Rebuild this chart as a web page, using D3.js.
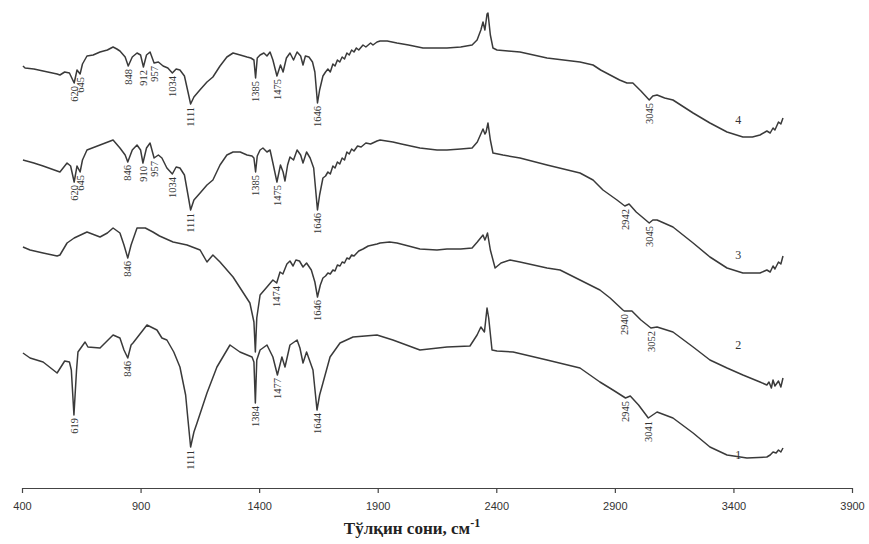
<!DOCTYPE html>
<html>
<head>
<meta charset="utf-8">
<script src="https://cdn.jsdelivr.net/npm/d3@7"></script>
<style>
  html, body { margin: 0; padding: 0; background: #fff; }
  svg { display: block; }
</style>
</head>
<body>
<svg id="chart" width="869" height="544"></svg>
<script>
// ---- Data: wavenumber (cm-1), relative transmittance (offset per curve) ----
const spectrum4 = [[404,86.8],[413,86.4],[450,86.2],[489,85.8],[548,85.2],[560,85.0],[580,85.6],[600,85.4],[620,83.4],[632,86.0],[645,85.2],[655,87.2],[674,88.8],[700,89.0],[729,89.6],[760,90.0],[784,90.6],[800,90.2],[813,89.8],[835,88.6],[848,86.8],[865,88.6],[885,89.4],[900,89.0],[912,86.6],[925,89.0],[940,89.6],[957,87.4],[975,87.6],[995,86.8],[1015,86.4],[1034,85.4],[1050,86.2],[1066,86.0],[1085,84.8],[1100,81.6],[1111,79.2],[1125,80.6],[1150,82.0],[1180,83.6],[1205,84.6],[1235,86.8],[1264,88.6],[1290,89.4],[1320,89.0],[1349,88.6],[1365,88.4],[1378,88.0],[1385,84.4],[1392,88.4],[1404,89.0],[1420,89.4],[1433,88.8],[1446,89.6],[1458,88.0],[1475,84.8],[1490,87.0],[1501,85.6],[1515,88.4],[1530,89.4],[1545,88.0],[1560,89.6],[1575,88.8],[1585,87.0],[1595,88.8],[1610,88.6],[1625,87.6],[1635,85.6],[1646,79.4],[1655,82.0],[1669,84.8],[1680,85.6],[1690,86.2],[1700,85.6],[1711,87.2],[1720,86.8],[1730,88.0],[1740,87.6],[1750,88.6],[1760,88.2],[1770,89.4],[1780,89.0],[1790,90.0],[1800,89.6],[1810,90.4],[1820,90.0],[1838,91.0],[1850,90.6],[1870,91.4],[1880,91.0],[1897,91.6],[1910,91.8],[1940,91.8],[1981,91.4],[2030,91.0],[2091,90.4],[2150,90.4],[2192,90.4],[2250,90.6],[2298,91.0],[2319,92.0],[2335,94.0],[2344,95.6],[2352,94.0],[2361,97.2],[2365,97.4],[2375,93.0],[2386,90.4],[2403,90.0],[2450,89.8],[2500,89.6],[2614,88.4],[2753,87.6],[2808,87.0],[2840,86.0],[2880,85.0],[2920,84.0],[2951,83.4],[2976,83.4],[3010,81.8],[3045,80.0],[3060,80.8],[3078,81.0],[3110,80.4],[3145,80.0],[3230,77.4],[3301,75.4],[3373,73.6],[3440,72.6],[3480,72.6],[3512,73.0],[3541,73.8],[3555,73.4],[3567,74.4],[3575,74.0],[3590,75.6],[3600,75.2],[3609,76.4]];

const spectrum3 = [[404,68.0],[450,67.4],[489,66.8],[548,65.8],[560,65.6],[590,67.4],[605,66.8],[620,63.6],[632,66.8],[645,65.6],[655,68.0],[674,70.0],[729,71.0],[784,72.0],[813,70.4],[835,69.0],[846,67.6],[865,70.0],[885,71.0],[900,70.0],[910,67.4],[925,70.4],[940,71.4],[957,68.4],[975,69.0],[990,68.4],[1011,66.4],[1034,65.2],[1050,66.6],[1066,66.4],[1085,65.0],[1100,61.0],[1111,58.0],[1125,60.0],[1151,61.4],[1180,63.0],[1205,64.0],[1235,67.0],[1264,69.0],[1290,69.6],[1320,69.6],[1349,69.0],[1370,68.8],[1378,68.4],[1385,65.6],[1392,68.8],[1404,70.0],[1416,70.4],[1433,69.6],[1446,70.0],[1458,67.4],[1475,63.6],[1490,67.0],[1501,65.6],[1509,63.8],[1520,67.0],[1530,68.6],[1545,68.0],[1560,70.0],[1575,69.0],[1585,67.4],[1600,69.6],[1615,68.4],[1630,66.4],[1646,58.0],[1655,61.0],[1669,64.4],[1680,64.8],[1690,65.6],[1700,65.2],[1711,66.8],[1720,66.4],[1730,67.6],[1740,67.2],[1750,68.4],[1760,68.0],[1770,69.6],[1780,69.2],[1790,70.2],[1800,69.8],[1815,70.8],[1830,70.6],[1850,71.4],[1870,71.2],[1897,71.8],[1910,72.0],[1964,71.6],[2000,71.2],[2078,70.4],[2150,70.0],[2192,70.0],[2250,70.2],[2298,70.4],[2320,71.6],[2344,74.2],[2352,73.2],[2357,73.6],[2365,75.4],[2375,72.0],[2386,69.4],[2428,69.0],[2500,68.4],[2614,67.0],[2753,65.4],[2808,64.0],[2850,62.0],[2909,60.0],[2942,58.8],[2960,59.2],[2990,57.6],[3045,55.4],[3060,56.0],[3078,56.0],[3145,54.6],[3230,51.4],[3301,48.6],[3373,46.4],[3440,45.4],[3512,45.4],[3541,46.0],[3555,45.6],[3567,46.8],[3575,46.2],[3590,47.6],[3600,47.2],[3609,48.8]];

const spectrum2 = [[404,50.6],[434,50.0],[489,49.4],[548,48.8],[560,49.0],[590,51.4],[620,52.4],[674,53.6],[729,52.6],[760,53.4],[784,54.4],[813,53.4],[830,51.0],[846,48.4],[860,51.0],[885,54.4],[920,54.4],[952,53.6],[980,52.8],[1037,51.6],[1096,51.0],[1151,50.0],[1180,47.6],[1205,49.0],[1235,47.6],[1290,44.6],[1361,39.4],[1378,35.6],[1384,29.6],[1390,36.4],[1404,41.0],[1433,42.6],[1458,44.0],[1474,43.4],[1488,45.6],[1500,45.2],[1517,47.2],[1530,47.8],[1543,46.8],[1555,48.0],[1570,47.8],[1585,46.6],[1600,47.4],[1620,46.0],[1635,43.6],[1646,40.6],[1658,43.0],[1669,44.4],[1680,44.8],[1690,45.4],[1700,45.2],[1711,46.0],[1720,45.8],[1730,47.0],[1741,46.8],[1750,47.6],[1760,47.4],[1770,48.4],[1780,48.2],[1790,49.0],[1800,48.8],[1820,49.8],[1838,50.2],[1860,50.8],[1897,51.2],[1910,51.4],[1950,51.6],[1981,51.4],[2030,50.8],[2078,50.2],[2150,50.0],[2192,50.2],[2250,50.2],[2298,50.4],[2320,51.6],[2344,53.0],[2352,52.0],[2357,52.6],[2363,53.4],[2375,50.0],[2395,46.4],[2420,47.4],[2458,48.0],[2500,47.6],[2614,46.4],[2669,46.0],[2753,44.0],[2837,42.0],[2880,40.4],[2934,38.0],[2940,37.8],[2972,37.8],[3010,36.0],[3052,34.4],[3078,34.6],[3145,33.6],[3230,30.6],[3301,28.0],[3373,26.4],[3440,25.0],[3512,23.6],[3541,23.0],[3550,23.6],[3560,22.4],[3567,24.0],[3575,22.8],[3590,23.8],[3600,22.6],[3609,24.4]];

const spectrum1 = [[404,29.4],[434,28.4],[489,27.6],[548,25.4],[580,27.8],[600,27.6],[608,26.0],[619,17.0],[630,26.0],[636,29.6],[666,31.6],[678,30.6],[729,30.4],[784,33.0],[813,32.4],[830,30.0],[846,28.4],[860,31.0],[868,31.4],[927,35.0],[969,34.0],[990,32.4],[1011,32.0],[1040,29.6],[1066,26.6],[1090,21.0],[1100,16.0],[1111,10.6],[1125,13.6],[1138,15.4],[1180,21.4],[1222,26.6],[1277,31.0],[1319,29.6],[1370,28.6],[1378,27.6],[1384,19.4],[1390,28.0],[1404,30.0],[1433,31.0],[1458,28.6],[1477,25.0],[1496,28.6],[1509,26.6],[1530,31.0],[1560,32.0],[1572,30.4],[1585,27.4],[1600,29.6],[1627,26.0],[1644,18.0],[1655,21.0],[1669,23.4],[1699,28.6],[1741,31.4],[1796,32.6],[1897,33.0],[1964,32.0],[2078,30.0],[2192,30.6],[2289,30.8],[2319,33.0],[2335,34.6],[2350,33.6],[2361,38.4],[2368,36.4],[2382,30.0],[2403,29.8],[2471,29.6],[2614,28.0],[2753,26.4],[2837,23.6],[2892,22.0],[2945,20.4],[2965,20.8],[3000,19.0],[3041,16.4],[3078,17.6],[3145,16.4],[3230,13.4],[3301,10.6],[3373,9.0],[3457,8.4],[3541,8.6],[3555,9.0],[3567,9.6],[3580,9.4],[3590,10.0],[3600,9.6],[3609,10.4]];

// Peak annotations (wavenumber) per spectrum
const peaks4 = [620, 645, 848, 912, 957, 1034, 1111, 1385, 1475, 1646, 3045];
const peaks3 = [620, 645, 846, 910, 957, 1034, 1111, 1385, 1475, 1646, 2942, 3045];
const peaks2 = [846, 1474, 1646, 2940, 3052];
const peaks1 = [619, 846, 1111, 1384, 1477, 1644, 2945, 3041];

// Curve numbers and their anchor (wavenumber, transmittance)
const curveNames = ["1", "2", "3", "4"];
const curveNameAnchor = [[3420, 9.0], [3420, 31.0], [3420, 49.0], [3420, 76.0]];

const xTicks = [400, 900, 1400, 1900, 2400, 2900, 3400, 3900];
const xTitle = "Тўлқин сони, см";
const xTitleSup = "-1";

// ---- Drawing ----
const svg = d3.select("#chart");
const x = d3.scaleLinear().domain([400, 3900]).range([22, 852]);
const y = d3.scaleLinear().domain([0, 100]).range([500, 0]);

const spectra = [spectrum1, spectrum2, spectrum3, spectrum4];
const peaks = [peaks1, peaks2, peaks3, peaks4];

const line = d3.line().x(d => x(d[0])).y(d => y(d[1]));

svg.append("g").selectAll("path")
  .data(spectra)
  .join("path")
  .attr("d", line)
  .attr("fill", "none")
  .attr("stroke", "#3a3a3a")
  .attr("stroke-width", 1.5)
  .attr("stroke-linejoin", "round");

// peak labels, below each dip
spectra.forEach((s, i) => {
  const g = svg.append("g");
  peaks[i].forEach(wn => {
    const near = s.filter(d => Math.abs(d[0] - wn) <= 6);
    const minT = d3.min(near.length ? near : [s.reduce((a, b) => Math.abs(b[0] - wn) < Math.abs(a[0] - wn) ? b : a)], d => d[1]);
    const px = x(wn), py = y(minT) + 3;
    g.append("text")
      .attr("transform", `translate(${px},${py}) rotate(-90)`)
      .attr("text-anchor", "end")
      .attr("dy", "0.35em")
      .attr("font-family", "'Liberation Serif', 'Times New Roman', serif")
      .attr("font-size", 10.5)
      .attr("fill", "#333")
      .text(wn);
  });
});

// curve numbers
svg.append("g").selectAll("text")
  .data(curveNames)
  .join("text")
  .attr("x", (d, i) => x(curveNameAnchor[i][0]))
  .attr("y", (d, i) => y(curveNameAnchor[i][1]))
  .attr("text-anchor", "middle")
  .attr("dy", "0.35em")
  .attr("font-family", "'Liberation Serif', 'Times New Roman', serif")
  .attr("font-size", 12)
  .attr("fill", "#333")
  .text(d => d);

// x axis
const axis = svg.append("g")
  .attr("transform", "translate(0,488)")
  .call(d3.axisBottom(x).tickValues(xTicks).tickFormat(d3.format("d")).tickSizeInner(5).tickSizeOuter(0).tickPadding(9));
axis.select(".domain").attr("stroke", "#444").attr("stroke-width", 1.2);
axis.selectAll(".tick line").attr("stroke", "#444").attr("stroke-width", 1.2);
axis.selectAll(".tick text")
  .attr("font-family", "'Liberation Sans Narrow', 'Arial Narrow', 'Liberation Sans', sans-serif")
  .attr("font-size", 11)
  .attr("fill", "#333");

// axis title
const title = svg.append("text")
  .attr("x", 412)
  .attr("y", 534)
  .attr("text-anchor", "middle")
  .attr("font-family", "'Liberation Serif', 'Times New Roman', serif")
  .attr("font-weight", "bold")
  .attr("font-size", 17)
  .attr("fill", "#222");
title.append("tspan").text(xTitle);
title.append("tspan").attr("dy", -7).attr("font-size", 12).text(xTitleSup);
</script>
</body>
</html>
